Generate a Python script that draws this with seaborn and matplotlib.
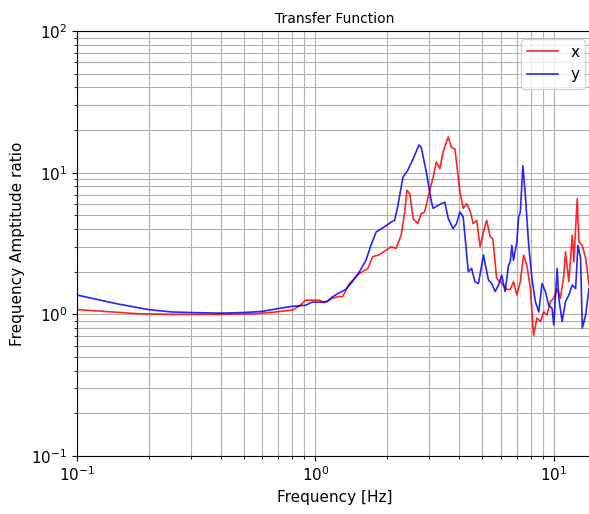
import pandas as pd
import seaborn as sns
import matplotlib
matplotlib.use("Agg")
import matplotlib.pyplot as plt

# values (frequency in Hz, amplitude ratio)
freq_x = [0.10, 0.13, 0.18, 0.25, 0.40, 0.55, 0.65, 0.75, 0.80, 0.86, 0.91, 1.04, 1.09,
          1.18, 1.26, 1.30, 1.39, 1.50, 1.61, 1.66, 1.74, 1.86, 1.98, 2.08, 2.18, 2.29,
          2.37, 2.42, 2.49, 2.57, 2.69, 2.78, 2.87, 3.02, 3.12, 3.22, 3.33, 3.43, 3.61,
          3.72, 3.85, 4.04, 4.17, 4.31, 4.45, 4.59, 4.75, 4.91, 5.07, 5.23, 5.41, 5.55,
          5.76, 5.96, 6.15, 6.35, 6.57, 6.78, 7.00, 7.24, 7.47, 7.71, 7.98, 8.23, 8.50,
          8.79, 9.07, 9.37, 9.68, 10.0, 10.33, 10.67, 11.02, 11.2, 11.57, 11.95, 12.14,
          12.54, 12.75, 13.17, 13.61, 14.06, 14.6]
amp_x = [1.08, 1.05, 1.01, 1.00, 1.00, 1.01, 1.03, 1.06, 1.07, 1.15, 1.26, 1.26, 1.21,
         1.30, 1.34, 1.33, 1.65, 1.89, 2.05, 2.11, 2.55, 2.64, 2.84, 3.0, 2.92, 3.62,
         5.28, 7.5, 7.1, 4.74, 4.37, 5.14, 5.28, 7.5, 9.3, 11.9, 10.7, 14.0, 17.9,
         15.1, 14.7, 7.3, 5.6, 6.05, 5.43, 4.37, 4.61, 2.99, 3.82, 4.61, 3.53, 3.43,
         1.79, 1.70, 1.60, 1.50, 1.50, 1.70, 1.37, 1.70, 2.62, 2.22, 1.52, 0.71, 0.94,
         0.89, 1.04, 0.99, 1.23, 1.30, 1.52, 1.30, 1.89, 2.76, 1.70, 3.62, 2.35,
         6.55, 3.25, 3.07, 2.48, 1.61, 1.89]

freq_y = [0.10, 0.12, 0.15, 0.20, 0.25, 0.30, 0.40, 0.50, 0.60, 0.70, 0.80, 0.91, 0.97,
          1.07, 1.12, 1.18, 1.26, 1.34, 1.43, 1.53, 1.63, 1.71, 1.80, 1.95, 2.08, 2.15,
          2.22, 2.33, 2.44, 2.57, 2.72, 2.78, 2.92, 3.07, 3.12, 3.27, 3.38, 3.49, 3.61,
          3.78, 3.91, 4.04, 4.17, 4.38, 4.52, 4.67, 4.83, 5.07, 5.32, 5.49, 5.68, 5.86,
          6.05, 6.25, 6.46, 6.57, 6.67, 6.78, 7.00, 7.12, 7.24, 7.42, 7.60, 7.85, 8.10,
          8.37, 8.65, 8.93, 9.22, 9.52, 9.84, 10.0, 10.33, 10.5, 10.84, 11.2, 11.57,
          11.95, 12.35, 12.63, 12.96, 13.17, 13.61, 14.06, 14.45, 14.6]
amp_y = [1.37, 1.28, 1.18, 1.08, 1.04, 1.03, 1.02, 1.03, 1.05, 1.10, 1.14, 1.16, 1.22,
         1.22, 1.23, 1.33, 1.42, 1.50, 1.70, 2.0, 2.41, 3.07, 3.82, 4.15, 4.49, 4.61,
         5.88, 9.3, 10.4, 12.5, 15.7, 15.1, 10.1, 6.2, 5.6, 5.88, 6.05, 6.2, 4.74,
         4.03, 4.37, 5.28, 4.87, 2.0, 2.11, 1.70, 1.65, 2.62, 1.75, 1.65, 1.45, 1.61,
         1.89, 1.45, 2.22, 2.35, 3.07, 2.41, 3.25, 4.87, 5.28, 11.2, 6.9, 3.07, 1.79,
         1.23, 1.04, 1.65, 1.45, 1.16, 1.10, 0.84, 2.11, 1.30, 0.89, 1.23, 1.37,
         1.61, 1.52, 3.07, 2.48, 0.80, 0.99, 1.52, 1.61, 0.64]

df_x = pd.DataFrame({"Frequency": freq_x, "Amp": amp_x})
df_y = pd.DataFrame({"Frequency": freq_y, "Amp": amp_y})

fig = plt.figure(figsize=(5.89, 5.14), dpi=100)
ax = fig.add_axes([0.1307, 0.1128, 0.8760, 0.8268])

sns.lineplot(data=df_x, x="Frequency", y="Amp", color="red", alpha=0.85,
             linewidth=1.2, label="x", ax=ax)
sns.lineplot(data=df_y, x="Frequency", y="Amp", color="blue", alpha=0.85,
             linewidth=1.2, label="y", ax=ax)

ax.set_xscale("log")
ax.set_yscale("log")
ax.set_xlim(0.1, 14.6)
ax.set_ylim(0.1, 100)
ax.grid(True, which="both", color="#b0b0b0", linewidth=0.8)
ax.set_axisbelow(True)
ax.tick_params(labelsize=11)

ax.set_title("Transfer Function", fontsize=10)
ax.set_xlabel("Frequency [Hz]", fontsize=11)
ax.set_ylabel("Frequency Amptitude ratio", fontsize=11)
ax.legend(loc="upper right", fontsize=11)

fig.savefig("out.png", dpi=100)
